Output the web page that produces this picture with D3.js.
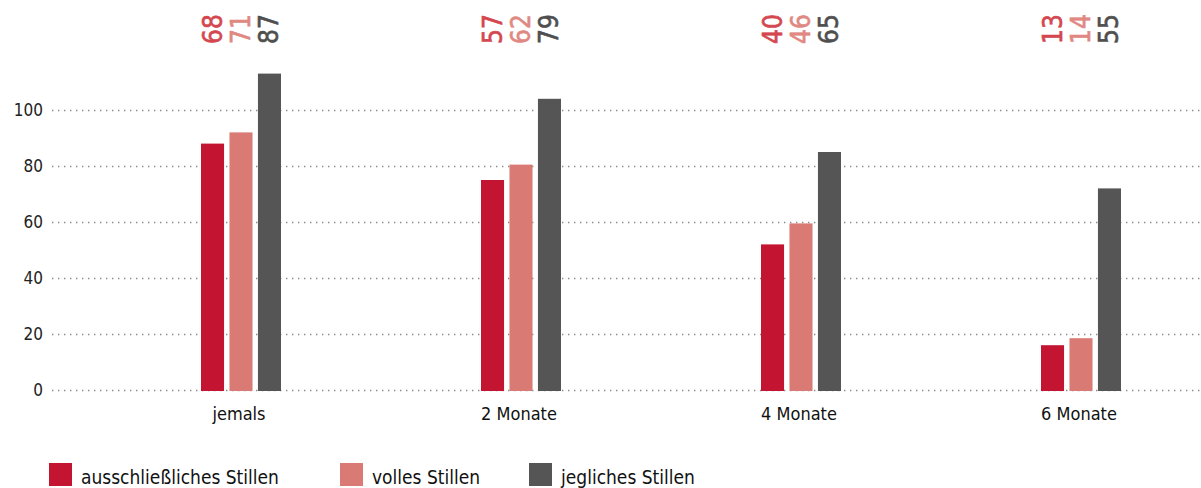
<!DOCTYPE html>
<html>
<head>
<meta charset="utf-8">
<script src="https://cdn.jsdelivr.net/npm/d3@7"></script>
<style>
  body { margin: 0; background: #fff; }
  svg { display: block; }
</style>
</head>
<body>
<div id="chart"></div>
<script>
// data
var categories = ['jemals', '2 Monate', '4 Monate', '6 Monate'];
var seriesNames = ['ausschließliches Stillen', 'volles Stillen', 'jegliches Stillen'];
var barValues = [
    [88, 75, 52, 16],      // ausschließlich
    [92, 80.5, 59.5, 18.5],// volles
    [113, 104, 85, 72]     // jegliches
];
var labelValues = [
    [68, 57, 40, 13],
    [71, 62, 46, 14],
    [87, 79, 65, 55]
];
var yTicks = [0, 20, 40, 60, 80, 100];

var barColors = ['#c31532', '#da7a74', '#555555'];
var labelColors = ['#d4474f', '#e08882', '#4f4f4f'];

var width = 1201, height = 488;
var svg = d3.select('#chart').append('svg')
    .attr('width', width)
    .attr('height', height);

var font = '"DejaVu Sans Condensed", "DejaVu Sans", sans-serif';

var y = d3.scaleLinear().domain([0, 100]).range([390, 110]);
var x = d3.scaleBand().domain(categories).range([101, 1221]);
var xs = d3.scaleBand().domain(d3.range(seriesNames.length)).range([-40, 40]).paddingInner(0.19);

// grid lines
svg.append('g').selectAll('line')
    .data(yTicks).join('line')
    .attr('x1', 52).attr('x2', width)
    .attr('y1', d => y(d) + 0.5).attr('y2', d => y(d) + 0.5)
    .attr('stroke', '#8a8a8a')
    .attr('stroke-width', 1.4)
    .attr('stroke-dasharray', '1.4,4.6');

// y tick labels
svg.append('g').selectAll('text')
    .data(yTicks).join('text')
    .attr('x', 43).attr('y', d => y(d))
    .attr('dy', '0.36em')
    .attr('text-anchor', 'end')
    .style('font-family', font)
    .style('font-size', '17px')
    .attr('fill', '#222')
    .text(d => d);

// bars
var groups = svg.append('g').selectAll('g')
    .data(categories).join('g')
    .attr('transform', d => 'translate(' + (x(d) + x.bandwidth() / 2) + ',0)');

groups.selectAll('rect')
    .data((c, ci) => seriesNames.map((s, si) => ({si: si, v: barValues[si][ci]})))
    .join('rect')
    .attr('x', d => xs(d.si))
    .attr('width', xs.bandwidth())
    .attr('y', d => y(d.v))
    .attr('height', d => y(0) - y(d.v) + 1)
    .attr('fill', d => barColors[d.si]);

// value labels (rotated)
groups.selectAll('text.val')
    .data((c, ci) => seriesNames.map((s, si) => ({si: si, v: labelValues[si][ci]})))
    .join('text')
    .attr('class', 'val')
    .attr('transform', d => 'translate(' + (xs(d.si) + xs.bandwidth() / 2 + 9) + ',44) rotate(-90)')
    .style('font-family', font)
    .style('font-size', '26px')
    .attr('fill', d => labelColors[d.si])
    .attr('stroke', d => labelColors[d.si])
    .attr('stroke-width', 0.6)
    .text(d => d.v);

// category labels
groups.append('text')
    .attr('x', -2).attr('y', 420)
    .attr('text-anchor', 'middle')
    .style('font-family', font)
    .style('font-size', '18px')
    .attr('fill', '#111')
    .text(d => d);

// legend
var legendX = [49, 340, 529];
var legend = svg.append('g').selectAll('g')
    .data(seriesNames).join('g')
    .attr('transform', (d, i) => 'translate(' + legendX[i] + ',463)');
legend.append('rect')
    .attr('width', 23).attr('height', 23)
    .attr('fill', (d, i) => barColors[i]);
legend.append('text')
    .attr('x', 32).attr('y', 21)
    .style('font-family', font)
    .style('font-size', '19px')
    .attr('fill', '#111')
    .text(d => d);
</script>
</body>
</html>
